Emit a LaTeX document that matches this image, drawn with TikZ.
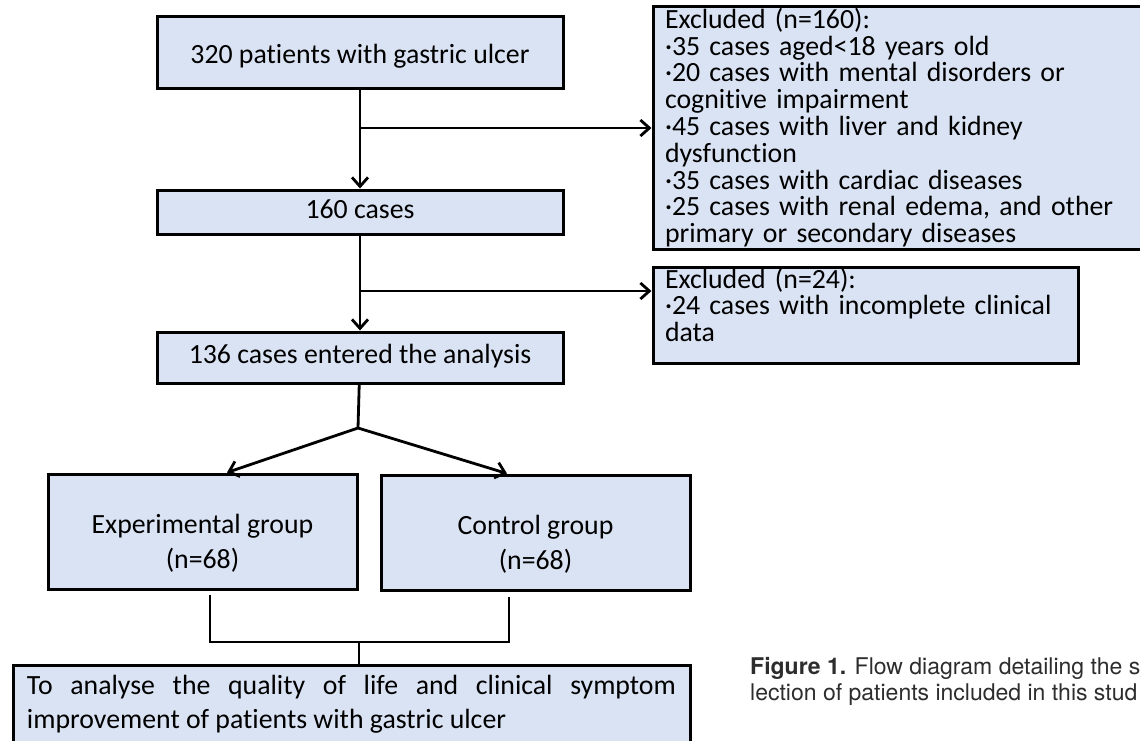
\documentclass[tikz,border=0pt]{standalone}
\usepackage{fontspec}
\setmainfont{Carlito}[Ligatures=NoCommon]
\newfontfamily\capfont{TeX Gyre Heros}
\usetikzlibrary{arrows.meta}
\definecolor{boxfill}{RGB}{218,227,243}
\definecolor{capgray}{RGB}{45,45,45}
\tikzset{
  stagebox/.style={draw, fill=boxfill, line width=3pt, inner sep=0pt,
    minimum width=406, text height=18, text depth=6},
  notebox/.style={draw, fill=boxfill, line width=3pt, inner xsep=12,
    inner ysep=0, align=left, font=\fontsize{27.8}{26.8}\selectfont},
  groupbox/.style={draw, fill=boxfill, line width=3pt, inner sep=0pt,
    minimum width=309, minimum height=115, align=center,
    font=\fontsize{27.8}{35}\selectfont},
  flow/.style={line width=2.8pt, -{Straight Barb[length=9pt,width=16pt]}},
  link/.style={line width=2.8pt},
}
\begin{document}
\begin{tikzpicture}[x=1pt, y=-1pt, font=\fontsize{27.8}{33}\selectfont]
  \useasboundingbox[fill=white] (0,0) rectangle (1140,740);
  \clip (0,0) rectangle (1140,740);

  % main stages
  \node[stagebox, minimum height=72, text height=28] (pat) at (360,52) {320 patients with gastric ulcer};
  \node[stagebox, minimum height=44] (c160) at (360,212) {160 cases};
  \node[stagebox, minimum height=51] (c136) at (360,357.5) {136 cases entered the analysis};

  % exclusions
  \node[notebox, text width=483, minimum height=243] (excl1) at (906.5,127.5)
    {Excluded (n=160):\\
     ·35 cases aged<18 years old\\
     ·20 cases with mental disorders or\\
     cognitive impairment\\
     ·45 cases with liver and kidney\\
     dysfunction\\
     ·35 cases with cardiac diseases\\
     ·25 cases with renal edema, and other\\
     primary or secondary diseases};
  \node[notebox, text width=401, minimum height=95] (excl2) at (865.5,315.5)
    {Excluded (n=24):\\
     ·24 cases with incomplete clinical\\
     data\rule[-21.5pt]{0pt}{21.5pt}};

  % groups
  \node[groupbox] (exp) at (202.5,531.5) {\rule{0pt}{43pt}Experimental group\\(n=68)};
  \node[groupbox] (ctrl) at (535.5,532.5) {\rule{0pt}{43pt}Control group\\(n=68)};

  \node[notebox, align=justify, text width=649, inner xsep=14,
    font=\fontsize{27.8}{34}\selectfont, minimum height=79] (aim) at (351.5,704.5)
    {To analyse the quality of life and clinical symptom\linebreak
     improvement of patients with gastric ulcer};

  \node[font=\capfont\fontsize{23}{26}\selectfont, text=capgray, align=left,
    anchor=west, inner sep=0pt] (cap) at (750,681.5)
    {\textbf{Figure 1.} Flow diagram detailing the s\\lection of patients included in this stud};

  % connectors
  \coordinate (cut1) at (360,128);
  \coordinate (cut2) at (360,291);
  \coordinate (split) at (358,428);
  \coordinate (merge) at (359,642);

  \draw[flow] (pat) -- (c160);
  \draw[flow] (cut1) -- (cut1 -| excl1.west);
  \draw[flow] (c160) -- (c136);
  \draw[flow] (cut2) -- (cut2 -| excl2.west);
  \draw[link] (c136) -- (split);
  \draw[flow] (split) -- ([xshift=24.5pt]exp.north);
  \draw[flow] (split) -- ([xshift=-28.5pt]ctrl.north);
  \draw[link] ([xshift=7.5pt,yshift=-4pt]exp.south) |- (merge)
    -| ([xshift=-26.5pt,yshift=-5pt]ctrl.south);
  \draw[link] (merge) -- (merge |- aim.north);
\end{tikzpicture}
\end{document}
